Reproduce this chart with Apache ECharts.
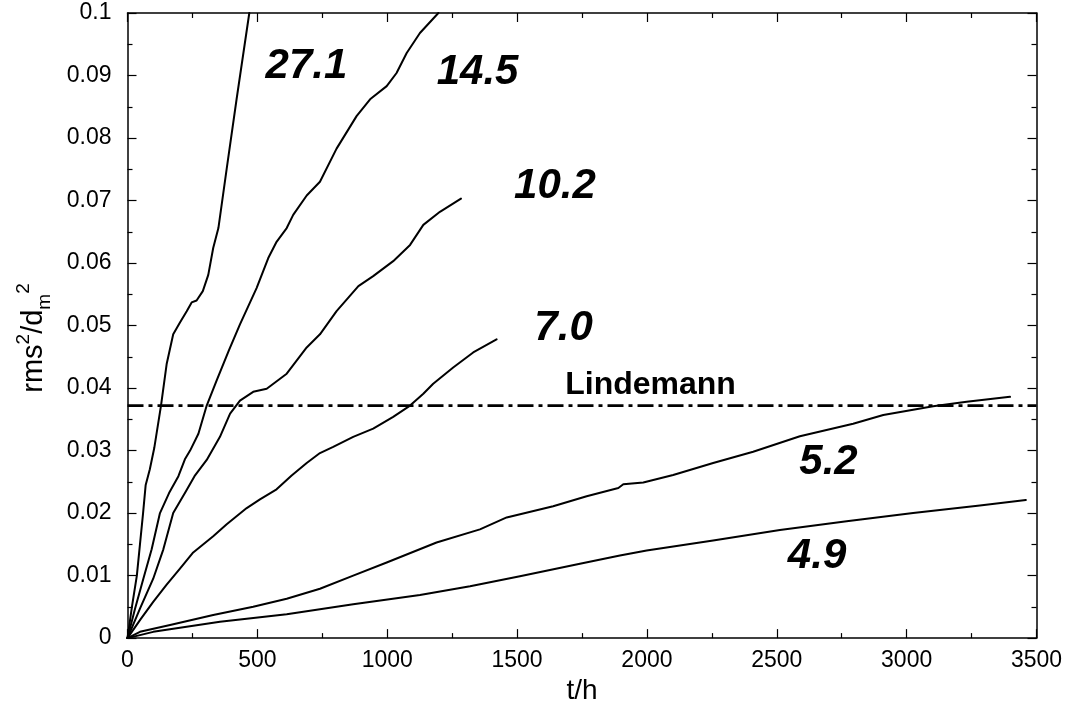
<!DOCTYPE html>
<html>
<head>
<meta charset="utf-8">
<script src="https://cdn.jsdelivr.net/npm/echarts@6/dist/echarts.min.js"></script>
<style>
html,body{margin:0;padding:0;background:#fff;}
#chart{width:1068px;height:710px;}
</style>
</head>
<body>
<div id="chart"></div>
<script>
// ---- data ----
var t271 = [0, 17, 36, 48, 60, 70, 86, 103, 129, 151, 176, 202, 228, 247, 266, 290, 311, 330, 350, 382, 420, 469];
var y271 = [0, 0.005, 0.01, 0.015, 0.02, 0.0245, 0.027, 0.0304, 0.0372, 0.0439, 0.0486, 0.0505, 0.0523, 0.0537, 0.054, 0.0555, 0.0581, 0.0624, 0.0656, 0.0751, 0.0862, 0.1];

var t145 = [0, 29, 61, 93, 125, 160, 196, 221, 241, 273, 305, 343, 390, 433, 497, 542, 574, 613, 638, 690, 741, 805, 882, 934, 998, 1036, 1075, 1126, 1197];
var y145 = [0, 0.0047, 0.0095, 0.0142, 0.02, 0.0232, 0.0259, 0.0286, 0.03, 0.0327, 0.0372, 0.0412, 0.046, 0.0502, 0.056, 0.0608, 0.0634, 0.0656, 0.0677, 0.0708, 0.073, 0.0783, 0.0835, 0.0862, 0.0883, 0.0904, 0.0936, 0.0968, 0.1];

var t102 = [0, 48, 99, 138, 176, 225, 258, 305, 356, 395, 433, 484, 536, 613, 690, 741, 805, 889, 946, 1023, 1088, 1139, 1203, 1284];
var y102 = [0, 0.0047, 0.0095, 0.0142, 0.02, 0.0235, 0.0259, 0.0285, 0.0322, 0.0359, 0.038, 0.0394, 0.0399, 0.0423, 0.0465, 0.0486, 0.0523, 0.0563, 0.0579, 0.0603, 0.0629, 0.0661, 0.0682, 0.0703];

var t70 = [0, 50, 99, 150, 202, 253, 330, 382, 459, 510, 574, 632, 690, 741, 792, 869, 946, 1023, 1088, 1139, 1177, 1254, 1331, 1421];
var y70 = [0, 0.003, 0.0058, 0.0085, 0.0111, 0.0137, 0.0163, 0.0182, 0.0208, 0.0222, 0.0238, 0.026, 0.028, 0.0296, 0.0306, 0.0322, 0.0335, 0.0354, 0.0372, 0.0391, 0.0407, 0.0433, 0.0457, 0.0478];

var t52 = [0, 48, 164, 330, 484, 613, 741, 869, 998, 1190, 1357, 1460, 1639, 1768, 1890, 1909, 1986, 2101, 2255, 2409, 2589, 2794, 2910, 3102, 3231, 3398];
var y52 = [0, 0.001, 0.0021, 0.0037, 0.005, 0.0063, 0.0079, 0.01, 0.0121, 0.0153, 0.0174, 0.0193, 0.0211, 0.0227, 0.024, 0.0246, 0.0249, 0.0261, 0.028, 0.0298, 0.0323, 0.0343, 0.0357, 0.0371, 0.0378, 0.0386];

var t49 = [0, 99, 356, 613, 869, 1126, 1319, 1511, 1742, 1896, 1999, 2255, 2512, 2769, 3025, 3282, 3459];
var y49 = [0, 0.001, 0.0026, 0.0038, 0.0054, 0.0069, 0.0083, 0.0099, 0.0119, 0.0132, 0.014, 0.0156, 0.0173, 0.0187, 0.02, 0.0212, 0.0221];

var lindemannX = [0, 3500];
var lindemannY = [0.0372, 0.0372];

// annotation labels (data coordinates)
var labelNames = ['27.1', '14.5', '10.2', '7.0', 'Lindemann', '5.2', '4.9'];
var labelX = [689, 1348, 1646, 1679, 2014, 2699, 2655];
var labelY = [0.0914, 0.0905, 0.0722, 0.0495, 0.0404, 0.0281, 0.013];

var xTicks = [0, 500, 1000, 1500, 2000, 2500, 3000, 3500];
var yTicks = [0, 0.01, 0.02, 0.03, 0.04, 0.05, 0.06, 0.07, 0.08, 0.09, 0.1];

function pairs(xs, ys) { return xs.map(function (x, i) { return [x, ys[i]]; }); }

var FONT = '"Liberation Sans", Arial, Helvetica, sans-serif';

function curve(xs, ys) {
  return {
    type: 'line', data: pairs(xs, ys), showSymbol: false, symbol: 'none',
    smooth: false, lineStyle: { color: '#000', width: 2, join: 'round', cap: 'round' }, z: 3, clip: true,
    xAxisIndex: 0, yAxisIndex: 0, silent: true
  };
}

var axisCommon = {
  axisLine: { show: true, onZero: false, lineStyle: { color: '#000', width: 1.5 } },
  axisTick: { show: true, inside: true, length: 9, lineStyle: { color: '#000', width: 1.2 } },
  minorTick: { show: true, splitNumber: 2, length: 5, lineStyle: { color: '#000', width: 1.2 } },
  splitLine: { show: false },
  minorSplitLine: { show: false }
};

function mk(base, extra) { return Object.assign({}, JSON.parse(JSON.stringify(base)), extra); }

var chart = echarts.init(document.getElementById('chart'), null, { renderer: 'canvas' });

var labelData = labelNames.map(function (n, i) {
  var isL = n === 'Lindemann';
  return {
    name: n, value: [labelX[i], labelY[i]],
    label: {
      show: true, position: 'inside', formatter: '{b}',
      fontFamily: FONT, fontWeight: 'bold',
      fontStyle: isL ? 'normal' : 'italic',
      fontSize: isL ? 32 : 42, color: '#000', opacity: 1
    }
  };
});

var option = {
  backgroundColor: '#fff',
  animation: false,
  grid: { left: 127.5, right: 31.5, top: 13, bottom: 67, containLabel: false },
  xAxis: [
    mk(axisCommon, {
      type: 'value', position: 'bottom', min: xTicks[0], max: xTicks[xTicks.length - 1], interval: 500,
      axisLabel: { show: true, margin: 11, fontSize: 23, fontFamily: FONT, color: '#000',
        formatter: function (v) { return String(v); } },
      name: 't/h', nameLocation: 'middle', nameGap: 35,
      nameTextStyle: { fontSize: 28, fontFamily: FONT, color: '#000' }
    }),
    mk(axisCommon, {
      type: 'value', position: 'top', min: xTicks[0], max: xTicks[xTicks.length - 1], interval: 500,
      axisLabel: { show: false }
    })
  ],
  yAxis: [
    mk(axisCommon, {
      type: 'value', position: 'left', min: yTicks[0], max: yTicks[yTicks.length - 1], interval: 0.01,
      axisLabel: {
        show: true, margin: 16, fontSize: 23, fontFamily: FONT, color: '#000',
        formatter: function (v) { return String(+v.toFixed(3)); }
      }
    }),
    mk(axisCommon, {
      type: 'value', position: 'right', min: yTicks[0], max: yTicks[yTicks.length - 1], interval: 0.01,
      axisLabel: { show: false }
    })
  ],
  graphic: [{
    type: 'text', x: 34, y: 338, rotation: Math.PI / 2,
    style: {
      text: '{a|rms}{sup|2}{a|/d}{sub|m}{sup|2}',
      align: 'center', verticalAlign: 'middle',
      fill: '#000',
      rich: {
        a: { fontSize: 29, fontFamily: FONT, lineHeight: 40, fill: '#000', color: '#000' },
        sup: { fontSize: 19, fontFamily: FONT, lineHeight: 19, verticalAlign: 'top', fill: '#000', color: '#000' },
        sub: { fontSize: 19, fontFamily: FONT, lineHeight: 19, verticalAlign: 'bottom', fill: '#000', color: '#000' }
      }
    }
  }],
  series: [
    curve(t271, y271),
    curve(t145, y145),
    curve(t102, y102),
    curve(t70, y70),
    curve(t52, y52),
    curve(t49, y49),
    {
      type: 'line', data: pairs(lindemannX, lindemannY), showSymbol: false, symbol: 'none',
      lineStyle: { color: '#000', width: 2.8, type: [16, 5, 4, 5] }, z: 2, silent: true
    },
    {
      type: 'scatter', data: labelData, symbolSize: 2, symbol: 'circle',
      itemStyle: { color: 'rgba(0,0,0,0)' }, z: 5, silent: true
    }
  ]
};
chart.setOption(option);
</script>
</body>
</html>
